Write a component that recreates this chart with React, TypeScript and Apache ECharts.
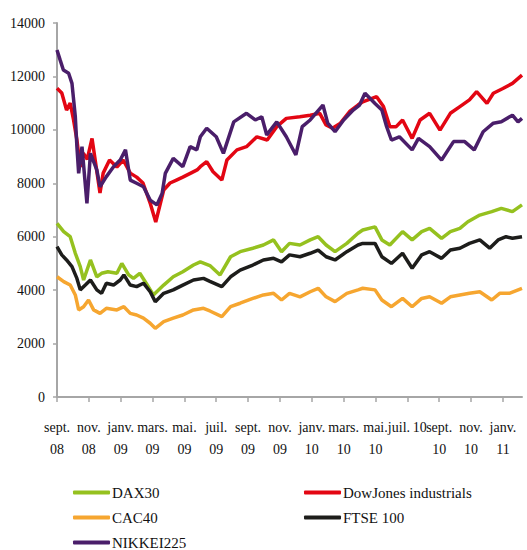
import React, { useEffect, useRef } from "react";
import * as echarts from "echarts";

// x = months since 1 Sept 2008, y = index level
const dax30: [number, number][] = [[0,6500],[0.42,6190],[0.83,6000],[1.15,5380],[1.46,4880],[1.67,4380],[2.1,5130],[2.5,4500],[2.8,4630],[3.2,4690],[3.76,4630],[4.07,5000],[4.5,4570],[4.8,4440],[5.2,4630],[5.6,4260],[6.05,3820],[6.7,4190],[7.3,4500],[7.9,4690],[8.57,4940],[9.0,5060],[9.6,4920],[10.24,4570],[10.9,5250],[11.5,5440],[12.3,5570],[12.96,5690],[13.6,5880],[14.1,5440],[14.6,5750],[15.26,5690],[15.9,5880],[16.4,6000],[16.9,5690],[17.46,5440],[18.2,5750],[18.9,6130],[19.2,6250],[19.97,6370],[20.4,5880],[20.9,5690],[21.7,6190],[22.3,5880],[22.9,6190],[23.4,6310],[24.15,5940],[24.7,6190],[25.3,6310],[25.8,6560],[26.55,6810],[27.3,6940],[27.9,7060],[28.6,6940],[29.2,7190]];
const dowJones: [number, number][] = [[0,11560],[0.3,11380],[0.6,10740],[0.83,11000],[1.04,10370],[1.25,9620],[1.46,8610],[1.65,9130],[1.9,8900],[2.2,9680],[2.7,7640],[2.9,8380],[3.3,8870],[3.76,8610],[4.16,8870],[4.6,8380],[5.0,8230],[5.4,8010],[5.85,7260],[6.2,6550],[6.7,7750],[7.1,8010],[7.5,8120],[7.9,8230],[8.4,8380],[8.8,8500],[9.0,8620],[9.4,8810],[9.8,8430],[10.35,8120],[10.67,8870],[11.3,9250],[11.9,9370],[12.55,9740],[13.2,9620],[13.8,10120],[14.4,10430],[15.25,10490],[15.9,10550],[16.5,10620],[16.9,10180],[17.3,10060],[17.8,10250],[18.4,10700],[18.9,10930],[19.2,11050],[20.07,11240],[20.5,10870],[20.9,10120],[21.3,10120],[21.7,10370],[22.3,9680],[22.8,10370],[23.4,10620],[24.05,9990],[24.7,10620],[25.3,10870],[25.9,11120],[26.35,11430],[27.0,10990],[27.4,11370],[28.0,11550],[28.6,11740],[29.2,12050]];
const cac40: [number, number][] = [[0,4500],[0.42,4320],[0.83,4190],[1.15,3820],[1.36,3260],[1.67,3380],[1.98,3630],[2.3,3260],[2.7,3130],[3.1,3320],[3.76,3260],[4.2,3380],[4.6,3130],[5.0,3070],[5.43,2950],[5.85,2760],[6.17,2570],[6.7,2820],[7.3,2950],[7.9,3070],[8.57,3260],[9.2,3320],[9.6,3220],[10.35,3010],[10.9,3380],[11.5,3510],[12.3,3690],[12.96,3820],[13.6,3880],[14.1,3630],[14.6,3880],[15.26,3750],[15.9,3940],[16.4,4070],[16.9,3750],[17.46,3570],[18.2,3880],[18.9,4010],[19.2,4070],[19.97,4010],[20.4,3630],[21.0,3380],[21.7,3690],[22.3,3380],[22.9,3690],[23.4,3750],[24.15,3510],[24.7,3750],[25.3,3820],[25.9,3880],[26.55,3940],[27.3,3630],[27.8,3880],[28.4,3880],[29.2,4070]];
const ftse100: [number, number][] = [[0,5630],[0.3,5320],[0.6,5130],[0.94,4880],[1.25,4440],[1.46,4010],[1.78,4190],[2.1,4380],[2.5,4010],[2.8,3880],[3.1,4260],[3.55,4190],[3.97,4380],[4.2,4570],[4.6,4190],[5.0,4130],[5.43,4260],[5.85,3940],[6.17,3570],[6.7,3880],[7.3,4010],[7.9,4190],[8.57,4380],[9.2,4440],[9.6,4330],[10.35,4130],[10.9,4500],[11.5,4750],[12.3,4940],[12.96,5130],[13.6,5190],[14.1,5060],[14.6,5320],[15.26,5250],[15.9,5380],[16.4,5500],[16.9,5250],[17.46,5130],[18.2,5440],[18.9,5690],[19.2,5750],[19.97,5750],[20.4,5250],[21.0,5000],[21.7,5380],[22.3,4820],[22.9,5320],[23.4,5440],[24.15,5190],[24.7,5500],[25.3,5570],[25.9,5750],[26.55,5880],[27.17,5570],[27.7,5880],[28.2,6000],[28.6,5940],[29.2,6000]];
const nikkei225: [number, number][] = [[0,12990],[0.2,12610],[0.4,12240],[0.73,12120],[0.94,11740],[1.15,10490],[1.25,9370],[1.36,8370],[1.57,9370],[1.88,7250],[2.1,9120],[2.5,8500],[2.7,7870],[3.1,8250],[3.55,8620],[3.97,8870],[4.3,9250],[4.6,8120],[5.0,8000],[5.43,7870],[5.85,7370],[6.27,7190],[6.6,7620],[6.8,8370],[7.3,8930],[7.9,8620],[8.36,9370],[8.78,9250],[9.0,9740],[9.4,10060],[10.0,9740],[10.45,9120],[11.1,10300],[11.9,10620],[12.45,10370],[12.86,10490],[13.17,9810],[13.8,10300],[14.4,9740],[15.0,9060],[15.4,10120],[15.9,10370],[16.7,10930],[17.0,10250],[17.46,9930],[18.0,10370],[18.6,10740],[19.0,10930],[19.34,11370],[19.97,10990],[20.4,10740],[20.7,10120],[21.0,9620],[21.5,9740],[22.3,9250],[22.7,9680],[23.4,9370],[24.15,8870],[24.9,9560],[25.6,9560],[26.2,9250],[26.76,9930],[27.4,10250],[27.9,10300],[28.6,10550],[28.95,10300],[29.2,10430]];

const tickMonths = [0, 2, 4, 6, 8, 10, 12, 14, 16, 18, 20, 22, 24, 26, 28];
const tickLabels = ["sept.\n08", "nov.\n08", "janv.\n09", "mars.\n09", "mai.\n09", "juil.\n09", "sept.\n09", "nov.\n09", "janv.\n10", "mars.\n10", "mai.\n10", "juil.\u200910", "sept.\n10", "nov.\n10", "janv.\n11"];

const seriesNames = ["DAX30", "DowJones industrials", "CAC40", "FTSE 100", "NIKKEI225"];
const seriesColors = ["#95c11f", "#e30613", "#f6a630", "#1d1d1b", "#4a1e6a"];
const seriesData = [dax30, dowJones, cac40, ftse100, nikkei225];
// legend slots: [left, top] of each legend box
const legendSlots: [number, number][] = [[68, 480], [299, 480], [68, 505], [299, 505], [68, 530]];

const FONT = "serif";

export default function App() {
  const ref = useRef<HTMLDivElement>(null);
  useEffect(() => {
    if (!ref.current) return;
    const chart = echarts.init(ref.current, undefined, { renderer: "svg" });
    chart.setOption({
      animation: false,
      backgroundColor: "#ffffff",
      textStyle: { fontFamily: FONT },
      grid: { left: 57, right: 5, top: 23, bottom: 153, containLabel: false },
      legend: seriesNames.map((name, i) => ({
        left: legendSlots[i][0],
        top: legendSlots[i][1],
        orient: "horizontal",
        itemWidth: 37,
        itemHeight: 4,
        icon: "roundRect",
        data: [name],
        textStyle: { fontFamily: FONT, fontSize: 15, color: "#111", padding: [0, 0, 0, -3], lineHeight: 15 },
      })),
      xAxis: {
        type: "value",
        min: 0,
        max: 29.2,
        interval: 2,
        splitLine: { show: false },
        axisLine: { lineStyle: { color: "#a6a6a6", width: 2 } },
        axisTick: { show: true, length: 5, lineStyle: { color: "#a6a6a6", width: 1.5 } },
        axisLabel: {
          showMaxLabel: false,
          margin: 19,
          fontFamily: FONT,
          fontSize: 14,
          lineHeight: 22,
          color: "#111",
          formatter: (v: number) => {
            const r = Math.round(v);
            const i = tickMonths.indexOf(r);
            return i >= 0 && Math.abs(v - r) < 1e-6 ? tickLabels[i] : "";
          },
        },
      },
      yAxis: {
        type: "value",
        min: 0,
        max: 14000,
        interval: 2000,
        splitLine: { show: false },
        axisLine: { show: true, lineStyle: { color: "#a6a6a6", width: 2 } },
        axisTick: { show: true, length: 4, lineStyle: { color: "#a6a6a6", width: 1.5 } },
        axisLabel: { fontFamily: FONT, fontSize: 14, color: "#111", margin: 12, formatter: (v: number) => String(v) },
      },
      series: seriesNames.map((name, i) => ({
        name,
        type: "line",
        data: seriesData[i],
        showSymbol: false,
        symbol: "none",
        color: seriesColors[i],
        lineStyle: { width: 3.5, color: seriesColors[i] },
        z: i === 4 ? 3 : 2,
      })),
    });
    return () => chart.dispose();
  }, []);
  return (
    <div
      ref={ref}
      style={{ position: "fixed", left: 0, top: 0, width: 527, height: 550, background: "#fff" }}
    />
  );
}
